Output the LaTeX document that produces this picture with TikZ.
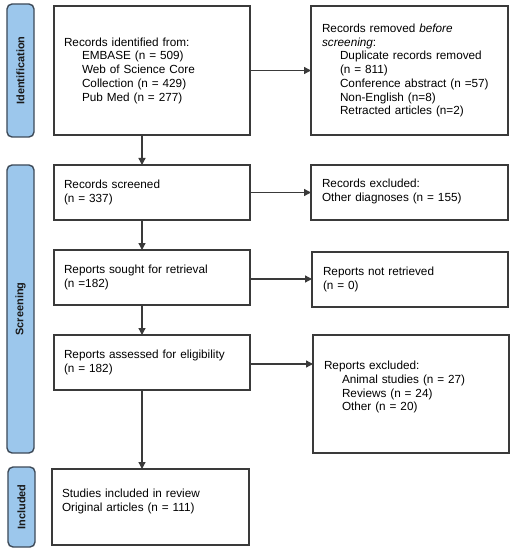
\documentclass[tikz,border=0pt]{standalone}
\usepackage{fontspec}
\setmainfont{Liberation Sans}
\usetikzlibrary{arrows.meta}
\definecolor{barblue}{HTML}{9CC7EC}
\definecolor{bardark}{HTML}{3E4A58}
\definecolor{linegray}{HTML}{3A3A3A}
\tikzset{
  box/.style={draw=linegray, line width=1.4bp, anchor=north west, inner xsep=10bp, inner ysep=0bp,
    align=left, outer sep=0pt, font=\fontsize{11.8}{13.8}\selectfont},
  bar/.style={draw=bardark, fill=barblue, rounded corners=5bp, line width=1.4bp, inner sep=0pt,
    rotate=90, font=\fontsize{11}{13}\selectfont\bfseries, text=black!90},
  arr/.style={draw=linegray, line width=1.3bp, -{Triangle[length=7bp,width=7bp]}}
}
\begin{document}
\begin{tikzpicture}[x=1bp,y=-1bp]
\fill[white] (0,0) rectangle (516,550);
\useasboundingbox (0,0) rectangle (516,550);
% phase bars
\node[bar, minimum width=133bp, minimum height=27bp] (idbar) at (20.5,70.5) {Identification};
\node[bar, minimum width=288bp, minimum height=27bp] (scbar) at (20.5,309) {Screening};
\node[bar, minimum width=80bp, minimum height=27bp] (inbar) at (21.5,507) {Included};
% left column
\node[box, text width=176bp, minimum height=129bp] (b1) at (54,6) {Records identified from:\\
\hspace*{18bp}EMBASE (n = 509)\\
\hspace*{18bp}Web of Science Core\\
\hspace*{18bp}Collection (n = 429)\\
\hspace*{18bp}Pub Med (n = 277)};
\node[box, text width=176bp, minimum height=55bp] (b2) at (54,165) {Records screened\\(n = 337)};
\node[box, text width=176bp, minimum height=55bp] (b3) at (54,250) {Reports sought for retrieval\\(n =182)};
\node[box, text width=176bp, minimum height=55bp] (b4) at (54,335) {Reports assessed for eligibility\\(n = 182)};
\node[box, text width=177bp, minimum height=76bp] (b5) at (52,469) {Studies included in review\\Original articles (n = 111)\rule[-14bp]{0pt}{0pt}};
% right column
\node[box, inner xsep=11bp, text width=175bp, minimum height=129bp] (r1) at (311,6) {Records removed \textit{before}\\
\textit{screening}:\\
\hspace*{18bp}Duplicate records removed\\
\hspace*{18bp}(n = 811)\\
\hspace*{18bp}Conference abstract (n =57)\\
\hspace*{18bp}Non-English (n=8)\\
\hspace*{18bp}Retracted articles (n=2)};
\node[box, inner xsep=11bp, text width=175bp, minimum height=55bp] (r2) at (311,165) {Records excluded:\\Other diagnoses (n = 155)\rule[-4bp]{0pt}{0pt}};
\node[box, inner xsep=11bp, text width=174bp, minimum height=55bp] (r3) at (312,252) {Reports not retrieved\\(n = 0)};
\node[box, inner xsep=11bp, text width=174bp, minimum height=118bp] (r4) at (313,335) {Reports excluded:\\
\hspace*{18bp}Animal studies (n = 27)\\
\hspace*{18bp}Reviews (n = 24)\\
\hspace*{18bp}Other (n = 20)\rule[-16bp]{0pt}{0pt}};
% vertical arrows
\draw[arr] ([xshift=-10bp]b1.south) -- ([xshift=-10bp]b1.south |- b2.north);
\draw[arr] ([xshift=-10bp]b2.south) -- ([xshift=-10bp]b2.south |- b3.north);
\draw[arr] ([xshift=-10bp]b3.south) -- ([xshift=-10bp]b3.south |- b4.north);
\draw[arr] ([xshift=-10bp]b4.south) -- ([xshift=-10bp]b4.south |- b5.north);
% horizontal arrows
\draw[arr] (b1.east) -- (b1.east -| r1.west);
\draw[arr] (b2.east) -- (b2.east -| r2.west);
\draw[arr] ([yshift=-1.5bp]b3.east) -- ([yshift=-1.5bp]b3.east -| r3.west);
\draw[arr] ([yshift=-1.5bp]b4.east) -- ([yshift=-1.5bp]b4.east -| r4.west);
\end{tikzpicture}
\end{document}
